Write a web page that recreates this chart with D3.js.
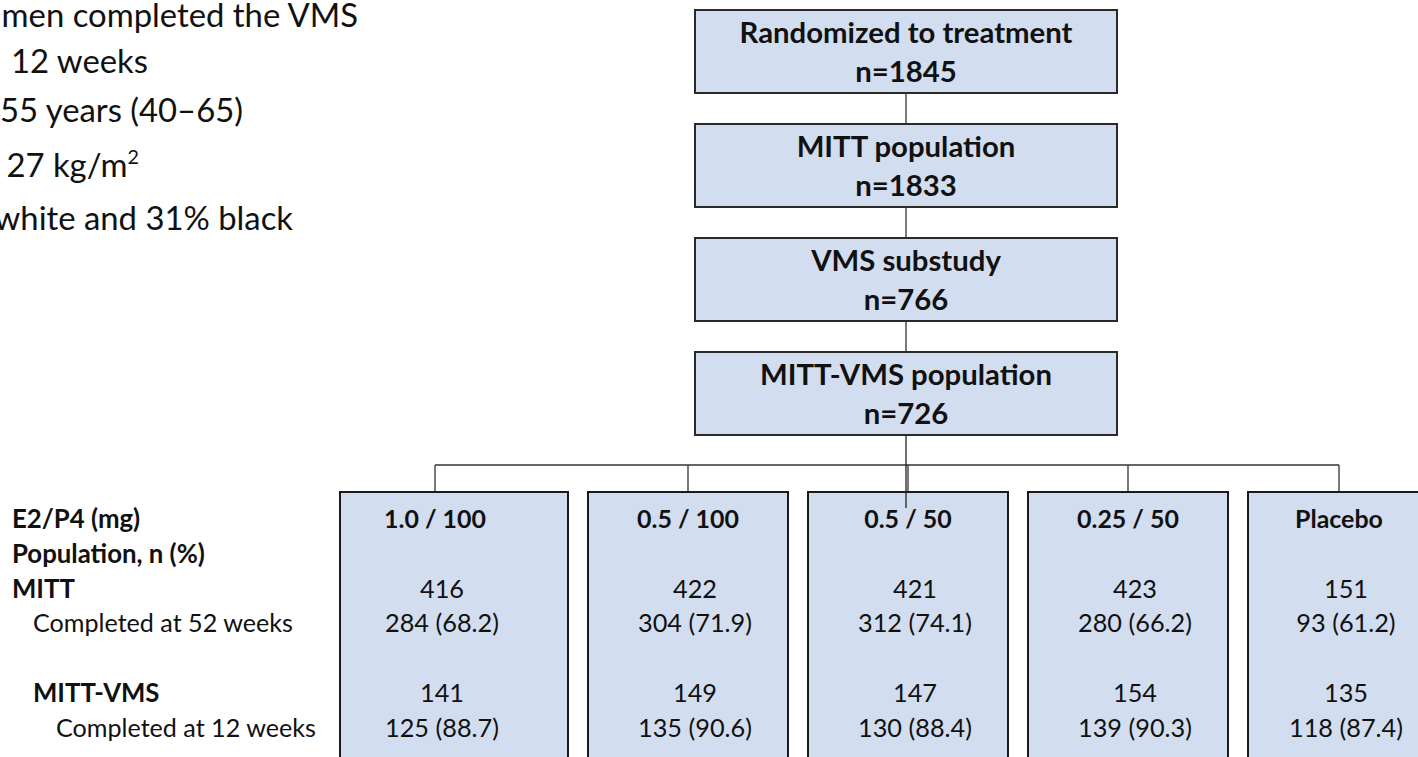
<!DOCTYPE html>
<html>
<head>
<meta charset="utf-8">
<script src="https://d3js.org/d3.v7.min.js"></script>
<style>
  body { margin: 0; background: #fff; }
  svg { display: block; }
</style>
</head>
<body>
<svg width="1418" height="757"></svg>
<script>

// flow boxes at the top
var flowLabels = ["Randomized to treatment", "MITT population", "VMS substudy", "MITT-VMS population"];
var flowN = [1845, 1833, 766, 726];

// treatment arms
var arms = ["1.0 / 100", "0.5 / 100", "0.5 / 50", "0.25 / 50", "Placebo"];
var mittN = [416, 422, 421, 423, 151];
var mittCompleted = [284, 304, 312, 280, 93];
var mittPct = [68.2, 71.9, 74.1, 66.2, 61.2];
var vmsN = [141, 149, 147, 154, 135];
var vmsCompleted = [125, 135, 130, 139, 118];
var vmsPct = [88.7, 90.6, 88.4, 90.3, 87.4];

// row labels on the left
var rowLabels = ["E2/P4 (mg)", "Population, n (%)", "MITT", "Completed at 52 weeks", "MITT-VMS", "Completed at 12 weeks"];

// bullet text, cut off at the left edge
var noteLines = ["men completed the VMS", "12 weeks", "55 years (40\u201365)", "27 kg/m", "white and 31% black"];

var FONT = "Lato, 'Open Sans', sans-serif";
var FILL = "#d2ddef";
var svg = d3.select("svg");

// font size so that a string fills a given width
function fitSize(str, weight, target) {
  var t = svg.append("text").attr("font-family", FONT).attr("font-weight", weight)
    .attr("font-size", 100).text(str);
  var w = t.node().getComputedTextLength();
  t.remove();
  return 100 * target / w;
}

var fsNote = fitSize("12 weeks", "normal", 137);
var fsBox = fitSize("MITT-VMS population", "bold", 292);
var fsVal = fitSize("284 (68.2)", "normal", 114);
var fsHead = fitSize("1.0 / 100", "bold", 102);
var fsLab = fitSize("Completed at 52 weeks", "normal", 260);
var fsLabB = fitSize("Population, n (%)", "bold", 193);

// ---- top flow ----
var boxW = 422, boxH = 83, cx = 906;
var yFlow = d3.scaleLinear().domain([0, flowLabels.length - 1]).range([10, 352]);

var flow = svg.append("g");
flowLabels.forEach(function(lab, i) {
  if (i > 0) {
    flow.append("line")
      .attr("x1", cx).attr("x2", cx)
      .attr("y1", yFlow(i - 1) + boxH).attr("y2", yFlow(i))
      .attr("stroke", "#333").attr("stroke-width", 1.3);
  }
  flow.append("rect")
    .attr("x", cx - boxW / 2).attr("y", yFlow(i))
    .attr("width", boxW).attr("height", boxH)
    .attr("fill", FILL).attr("stroke", "#2a2a2a").attr("stroke-width", 2);
  flow.append("text")
    .attr("x", cx).attr("y", yFlow(i) + 33)
    .attr("text-anchor", "middle").attr("font-family", FONT)
    .attr("font-weight", "bold").attr("font-size", fsBox).attr("fill", "#111")
    .text(lab);
  flow.append("text")
    .attr("x", cx).attr("y", yFlow(i) + 72)
    .attr("text-anchor", "middle").attr("font-family", FONT)
    .attr("font-weight", "bold").attr("font-size", fsBox).attr("fill", "#111")
    .text("n=" + flowN[i]);
});

// ---- arm boxes ----
var x = d3.scaleBand().domain(arms).range([368, 1448]).paddingInner(0.0909);
var nudge = [-33, 0, 0, 0, -9];   // connector offsets from band centre
var extraLeft = [28, 0, 0, 0, 0]; // first box is a bit wider
var conn = arms.map(function(a, i) { return x(a) + x.bandwidth() / 2 + nudge[i]; });

var lineY = 465, armTop = 492;
var yRow = d3.scaleLinear().domain([0, 6]).range([528, 736.8]);

var armG = svg.append("g");
armG.append("line")
  .attr("x1", conn[0]).attr("x2", conn[conn.length - 1])
  .attr("y1", lineY).attr("y2", lineY)
  .attr("stroke", "#333").attr("stroke-width", 1.3);

arms.forEach(function(a, i) {
  armG.append("line")
    .attr("x1", conn[i]).attr("x2", conn[i])
    .attr("y1", lineY).attr("y2", armTop)
    .attr("stroke", "#333").attr("stroke-width", 1.3);
  armG.append("rect")
    .attr("x", x(a) - extraLeft[i]).attr("y", armTop)
    .attr("width", x.bandwidth() + extraLeft[i]).attr("height", 300)
    .attr("fill", FILL).attr("stroke", "#1a1a1a").attr("stroke-width", 2);
  armG.append("text")
    .attr("x", conn[i]).attr("y", yRow(0))
    .attr("text-anchor", "middle").attr("font-family", FONT)
    .attr("font-weight", "bold").attr("font-size", fsHead).attr("fill", "#111")
    .text(a);
  var vals = [[2, mittN[i]], [3, mittCompleted[i] + " (" + mittPct[i].toFixed(1) + ")"],
              [5, vmsN[i]], [6, vmsCompleted[i] + " (" + vmsPct[i].toFixed(1) + ")"]];
  vals.forEach(function(v) {
    armG.append("text")
      .attr("x", conn[i] + 7).attr("y", yRow(v[0]))
      .attr("text-anchor", "middle").attr("font-family", FONT)
      .attr("font-size", fsVal).attr("fill", "#111")
      .text(v[1]);
  });
});

// centre line runs from the last flow box into the middle arm box
armG.append("line")
  .attr("x1", cx).attr("x2", cx)
  .attr("y1", yFlow(3) + boxH).attr("y2", 508)
  .attr("stroke", "#222").attr("stroke-width", 1.3);

// ---- row labels ----
var labRows = [0, 1, 2, 3, 5, 6];
var labX = [12, 12, 12, 33, 33, 56];
var labBold = [true, true, true, false, true, false];
rowLabels.forEach(function(l, i) {
  svg.append("text")
    .attr("x", labX[i]).attr("y", yRow(labRows[i]))
    .attr("font-family", FONT)
    .attr("font-weight", labBold[i] ? "bold" : "normal")
    .attr("font-size", labBold[i] ? fsLabB : fsLab).attr("fill", "#111")
    .text(l);
});

// ---- notes at top left ----
var noteEnd = [358, 148, 243, 139, 293];
var noteBase = [27, 73, 122, 177, 230];
noteLines.forEach(function(l, i) {
  var t = svg.append("text")
    .attr("x", noteEnd[i]).attr("y", noteBase[i])
    .attr("text-anchor", "end").attr("font-family", FONT)
    .attr("font-size", fsNote).attr("fill", "#111")
    .text(l);
  if (i === 3) {
    t.append("tspan").attr("dy", -13).attr("font-size", fsNote * 0.6).text("2");
  }
});
</script>
</body>
</html>
